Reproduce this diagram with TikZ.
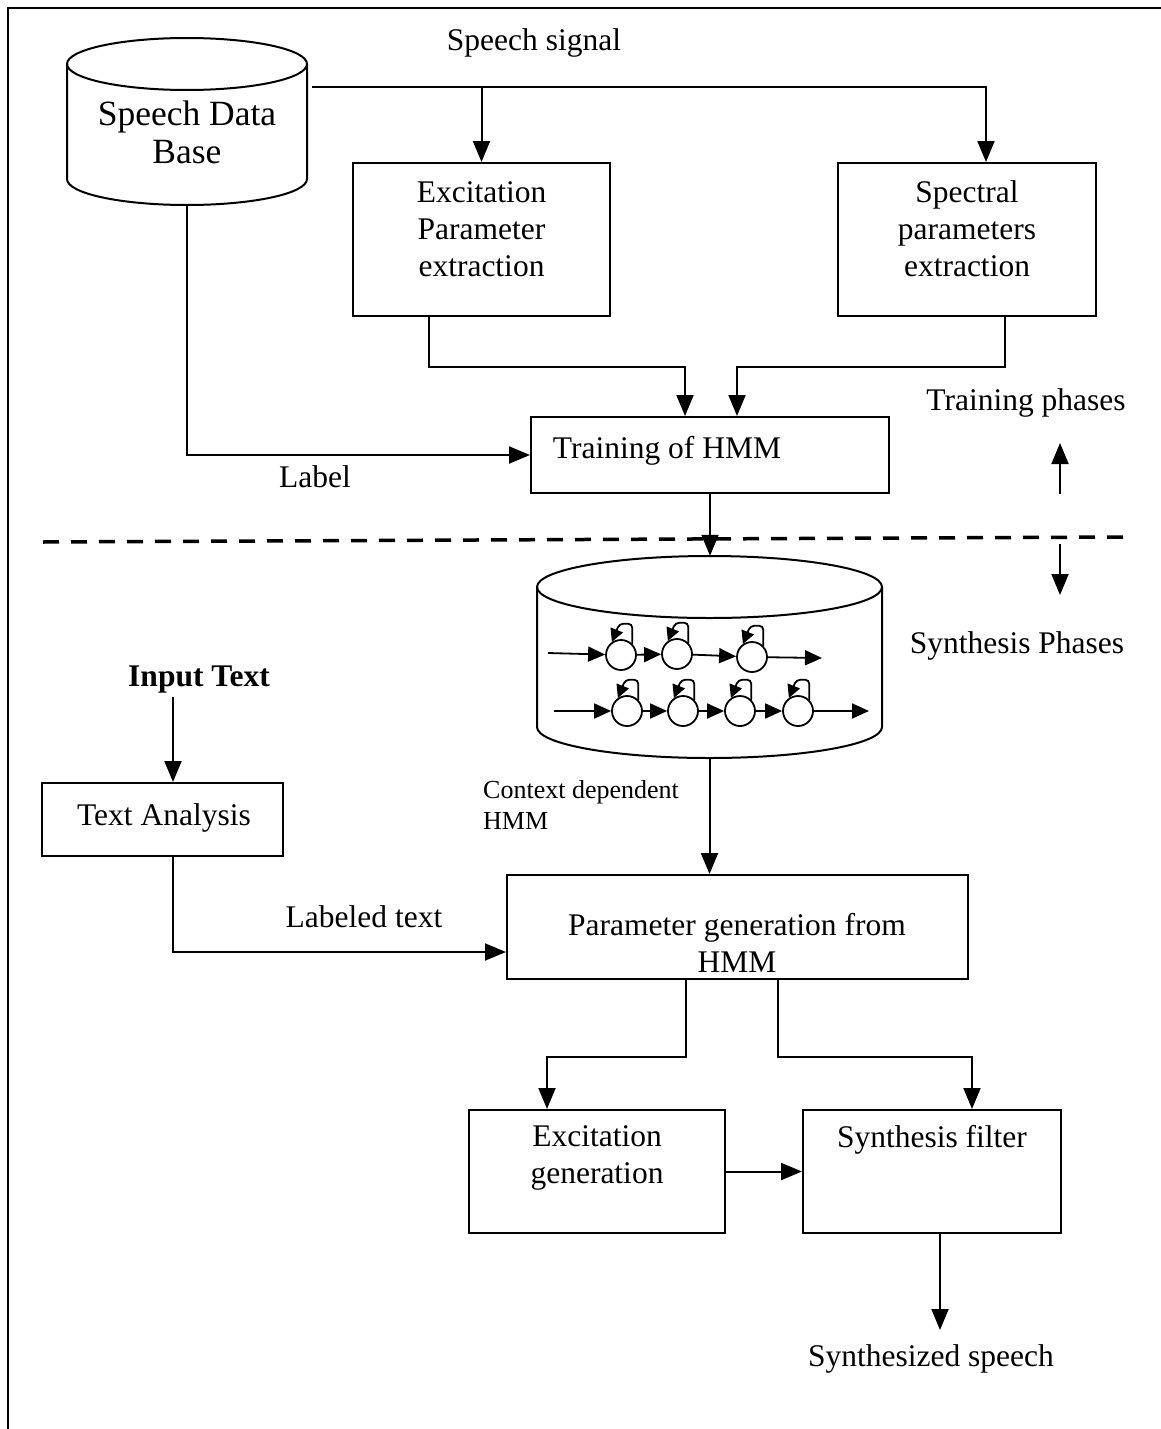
\documentclass[tikz,border=0pt]{standalone}
\usepackage{fontspec}
\setmainfont{Liberation Serif}
\usetikzlibrary{arrows.meta}
\newcommand\bodyfs{\fontsize{31.5}{37}\selectfont}
\newcommand\bigfs{\fontsize{35.5}{38}\selectfont}
\newcommand\smallfs{\fontsize{26}{31}\selectfont}
\begin{document}
\begin{tikzpicture}[x=1pt,y=-1pt,
  ln/.style={line width=2pt},
  arr/.style={line width=2pt,-{Triangle[length=21pt,width=17pt]}},
  sarr/.style={line width=1.8pt,-{Triangle[length=17pt,width=15pt]}},
  larr/.style={line width=1.8pt,-{Triangle[length=13pt,width=13pt]},rounded corners=4pt},
  blk/.style={draw,line width=2pt,inner sep=0pt},
  lbl/.style={inner sep=0pt,align=center,font=\bodyfs},
  st/.style={draw,circle,line width=1.8pt,minimum size=30pt,inner sep=0pt},
  holder/.style={inner sep=0pt},
  ]
\useasboundingbox (0,0) rectangle (1161,1429);

% outer frame (left and top edges)
\draw[line width=2.5pt] (8,1429) -- (8,8) -- (1161,8);

% ---------- training part ----------
% speech data base (cylinder)
\node[holder, minimum width=240pt, minimum height=167pt] (sdb) at (187,121.5) {};
\draw[ln] (67,64) -- (67,179) arc[start angle=180,end angle=360,x radius=120pt,y radius=26pt] -- (307,64);
\draw[ln] (187,64) ellipse[x radius=120pt,y radius=26pt];
\node[inner sep=0pt,align=center,font=\bigfs] (sdbt) at (187,132) {Speech Data\\Base};

\node[lbl] (sig-t) at (534,43) {Speech signal};

\node[blk, minimum width=257pt, minimum height=153pt] (exc) at (481.5,239.5) {};
\node[lbl] (exc-t) at (481.5,229) {Excitation\\Parameter\\extraction};
\node[blk, minimum width=258pt, minimum height=153pt] (spec) at (967,239.5) {};
\node[lbl] (spec-t) at (967,229) {Spectral\\parameters\\extraction};
\node[blk, minimum width=358pt, minimum height=76pt] (trn) at (710,455) {};
\node[lbl] (trn-t) at (667,451) {Training of HMM};
\node[lbl] (lab-t) at (315,477) {Label};

\coordinate (sdbR) at (312,87);
\coordinate (sig) at (986,87);
\draw[arr] (sdbR) -| (spec.north -| sig);
\draw[arr] (exc.north |- sig) -- (exc.north);

\coordinate (ej) at (429,367);
\coordinate (ejt) at (685,367);
\draw[arr] (exc.south -| ej) -- (ej) -- (ejt) -- (trn.north -| ejt);
\coordinate (sj) at (1005,367);
\coordinate (sjt) at (737,367);
\draw[arr] (spec.south -| sj) -- (sj) -- (sjt) -- (trn.north -| sjt);
\draw[arr] (sdb.south) |- (trn.west);

% phase separator and phase markers
\coordinate (dl) at (43,542);
\coordinate (dr) at (1123,537);
\draw[line width=3.5pt, dash pattern=on 16pt off 12pt] (dl) -- (dr);
\node[lbl] (tp-t) at (1026,403) {Training phases};
\node[lbl] (sp-t) at (1017,646) {Synthesis Phases};
\coordinate (up0) at (1060,494);
\coordinate (up1) at (1060,443);
\coordinate (dn0) at (1060,544);
\coordinate (dn1) at (1060,595);
\draw[arr] (up0) -- (up1);
\draw[arr] (dn0) -- (dn1);

% ---------- HMM database ----------
\node[holder, minimum width=345pt, minimum height=202pt] (hmm) at (709.5,657) {};
\draw[ln] (537,587) -- (537,727) arc[start angle=180,end angle=360,x radius=172.5pt,y radius=31pt] -- (882,587);
\draw[ln] (709.5,587) ellipse[x radius=172.5pt,y radius=31pt];
\draw[arr] (trn.south) -- (trn.south |- hmm.north);

% state chains
\node[st] (a1) at (621,655) {};
\node[st] (a2) at (677,654) {};
\node[st] (a3) at (752,657) {};
\node[st] (b1) at (627,711) {};
\node[st] (b2) at (683,711) {};
\node[st] (b3) at (740,711) {};
\node[st] (b4) at (798,711) {};
\coordinate (ain) at (548,653);
\coordinate (aout) at (822,658);
\coordinate (bin) at (554,711);
\coordinate (bout) at (869,711);
\draw[sarr] (ain) -- (a1);
\draw[sarr] (a1) -- (a2);
\draw[sarr] (a2) -- (a3);
\draw[sarr] (a3) -- (aout);
\draw[sarr] (bin) -- (b1);
\draw[sarr] (b1) -- (b2);
\draw[sarr] (b2) -- (b3);
\draw[sarr] (b3) -- (b4);
\draw[sarr] (b4) -- (bout);
\foreach \s in {a1,a2,a3,b1,b2,b3,b4}{
  \draw[larr] (\s.45) -- ++(0,-20) -- ++(-13,0) -- (\s.125);
}

\node[inner sep=0pt,align=left,anchor=west,font=\smallfs] (cd-t) at (483,805) {Context dependent\\HMM};

% ---------- synthesis part ----------
\node[inner sep=0pt,font=\bodyfs\bfseries] (inp) at (199,680) {Input Text};
\node[blk, minimum width=241pt, minimum height=73pt] (ta) at (162.5,819.5) {};
\node[lbl] (ta-t) at (164,818) {Text Analysis};
\node[blk, minimum width=461pt, minimum height=104pt] (par) at (737.5,927) {};
\node[lbl] (par-t) at (737,943) {Parameter generation from\\HMM};
\node[lbl] (lt-t) at (364,917) {Labeled text};

\coordinate (tc) at (173,952);
\coordinate (tin) at (173,697);
\draw[arr] (tin) -- (ta.north -| tin);
\draw[arr] (ta.south -| tc) -- (tc) -- (par.west |- tc);
\draw[arr] (hmm.south) -- (hmm.south |- par.north);

\node[blk, minimum width=256pt, minimum height=123pt] (egen) at (597,1171.5) {};
\node[lbl] (egen-t) at (597,1158) {Excitation\\generation};
\node[blk, minimum width=258pt, minimum height=123pt] (sf) at (932,1171.5) {};
\node[lbl] (sf-t) at (932,1140) {Synthesis filter};

\coordinate (pa) at (686,1057);
\coordinate (pab) at (547,1057);
\coordinate (pc) at (778,1057);
\coordinate (pcb) at (972,1057);
\draw[arr] (par.south -| pa) -- (pa) -- (pab) -- (egen.north -| pab);
\draw[arr] (par.south -| pc) -- (pc) -- (pcb) -- (sf.north -| pcb);
\draw[arr] (egen.east) -- (sf.west);

\coordinate (so) at (940,1330);
\draw[arr] (sf.south -| so) -- (so);
\node[lbl] (ss-t) at (931,1359) {Synthesized speech};
\end{tikzpicture}
\end{document}
